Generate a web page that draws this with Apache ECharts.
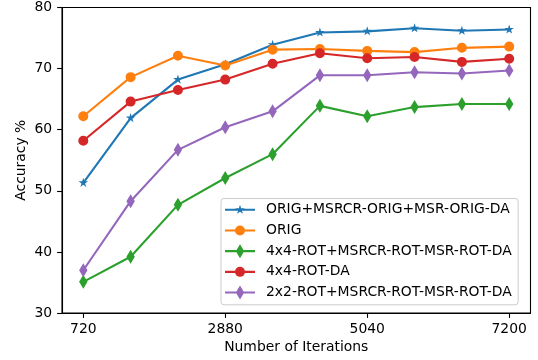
<!DOCTYPE html>
<html>
<head>
<meta charset="utf-8">
<script src="https://cdn.jsdelivr.net/npm/echarts@6/dist/echarts.min.js"></script>
<style>html,body{margin:0;padding:0;background:#fff}#c{width:538px;height:360px}</style>
</head>
<body>
<div id="c"></div>
<script>
const iterations = [720, 1440, 2160, 2880, 3600, 4320, 5040, 5760, 6480, 7200];
const xTickLabels = [720, 2880, 5040, 7200];
const seriesNames = [
  'ORIG+MSRCR-ORIG+MSR-ORIG-DA',
  'ORIG',
  '4x4-ROT+MSRCR-ROT-MSR-ROT-DA',
  '4x4-ROT-DA',
  '2x2-ROT+MSRCR-ROT-MSR-ROT-DA'
];
const origMsrcrMsrDA = [51.3, 61.9, 68.2, 70.7, 73.9, 75.9, 76.1, 76.6, 76.2, 76.4];
const orig = [62.2, 68.6, 72.1, 70.5, 73.1, 73.2, 72.9, 72.7, 73.4, 73.6];
const rot4MsrcrMsrDA = [35.1, 39.2, 47.7, 52.1, 56.0, 63.9, 62.2, 63.7, 64.2, 64.2];
const rot4DA = [58.2, 64.6, 66.5, 68.2, 70.8, 72.5, 71.7, 71.9, 71.1, 71.6];
const rot2MsrcrMsrDA = [37.0, 48.3, 56.7, 60.4, 63.0, 68.9, 68.9, 69.4, 69.2, 69.7];

const colors = ['#1f77b4', '#ff7f0e', '#2ca02c', '#d62728', '#9467bd'];

// marker shapes (clockwise), centred at 0,0
const starD = 'M0,-5 L1.123,-1.545 L4.755,-1.545 L1.816,0.59 L2.939,4.045 L0,1.91 L-2.939,4.045 L-1.816,0.59 L-4.755,-1.545 L-1.123,-1.545 Z';
const circleD = 'M-5,0 A5,5 0 1,1 5,0 A5,5 0 1,1 -5,0 Z';
const diamondD = 'M0,-7 L4.2,0 L0,7 L-4.2,0 Z';
const shapes = [starD, circleD, diamondD, circleD, diamondD];

function shift(d, dx, dy) {
  return d.replace(/(-?\d*\.?\d+),(-?\d*\.?\d+)/g, (m, a, b) => {
    return (parseFloat(a) + dx).toFixed(3) + ',' + (parseFloat(b) + dy).toFixed(3);
  });
}
function fixArc(d, dx, dy) {
  return d.replace(/([ML])(-?\d*\.?\d+),(-?\d*\.?\d+)/g, (m, c, a, b) => c + (parseFloat(a) + dx).toFixed(3) + ',' + (parseFloat(b) + dy).toFixed(3))
          .replace(/A5,5 0 1,1 (-?\d*\.?\d+),(-?\d*\.?\d+)/g, (m, a, b) => 'A5,5 0 1,1 ' + (parseFloat(a) + dx).toFixed(3) + ',' + (parseFloat(b) + dy).toFixed(3));
}
const pad = ' M-7,-7 L-6.99,-7 M7,7 L6.99,7';
const symbols = shapes.map(d => 'path://' + d + pad);

// legend icons: 36 x 17.5 box, line 0..30, marker centred at 15
const LW = 36, LH = 17.5;
const lineRect = 'M0,7.7 L30,7.7 L30,9.8 L0,9.8 Z';
const legendIcons = shapes.map(d => {
  const m = (d === circleD) ? fixArc(d, 15, 8.75) : shift(d, 15, 8.75);
  return 'path://' + lineRect + ' ' + m + ' M0,0 L0.01,0 M36,17.5 L35.99,17.5';
});
const allValues = [origMsrcrMsrDA, orig, rot4MsrcrMsrDA, rot4DA, rot2MsrcrMsrDA];

const font = 'DejaVu Sans';
const fs = 13.9;

const chart = echarts.init(document.getElementById('c'), null, {renderer: 'canvas'});
chart.setOption({
  animation: false,
  backgroundColor: '#fff',
  grid: {left: 62, right: 7.5, top: 7.5, bottom: 47, show: true, borderColor: '#000', borderWidth: 1.1, backgroundColor: 'transparent'},
  xAxis: {
    type: 'value', min: 396, max: 7524,
    name: 'Number of Iterations', nameLocation: 'middle', nameGap: 27, nameMoveOverlap: false,
    nameTextStyle: {fontFamily: font, fontSize: fs, color: '#000'},
    axisLine: {show: true, lineStyle: {color: '#000', width: 1.1}},
    axisTick: {show: true, length: 4.9, lineStyle: {color: '#000', width: 1.1}, customValues: xTickLabels},
    axisLabel: {show: true, margin: 9.8, fontFamily: font, fontSize: fs, color: '#000', customValues: xTickLabels, formatter: v => String(v)},
    splitLine: {show: false}
  },
  yAxis: {
    type: 'value', min: 30, max: 80, interval: 10,
    name: 'Accuracy %', nameLocation: 'middle', nameGap: 34, nameMoveOverlap: false,
    nameTextStyle: {fontFamily: font, fontSize: fs, color: '#000'},
    axisLine: {show: true, lineStyle: {color: '#000', width: 1.1}},
    axisTick: {show: true, length: 4.9, lineStyle: {color: '#000', width: 1.1}},
    axisLabel: {margin: 9.8, fontFamily: font, fontSize: fs, color: '#000'},
    splitLine: {show: false}
  },
  legend: {
    orient: 'vertical', left: 221, top: 198.5,
    data: seriesNames.map((n, i) => ({name: n, icon: legendIcons[i]})),
    itemWidth: LW, itemHeight: LH, itemGap: 3.2,
    padding: [2.5, 6.5, 3.5, 4],
    itemStyle: {borderWidth: 0},
    backgroundColor: 'rgba(255,255,255,0.8)', borderColor: '#cccccc', borderWidth: 1, borderRadius: 3,
    textStyle: {fontFamily: font, fontSize: fs, color: '#000'}
  },
  series: seriesNames.map((name, i) => ({
    name: name,
    type: 'line',
    data: iterations.map((x, j) => [x, allValues[i][j]]),
    symbol: symbols[i],
    symbolSize: 14,
    showAllSymbol: true,
    color: colors[i],
    itemStyle: {color: colors[i]},
    lineStyle: {color: colors[i], width: 2.1},
    emphasis: {disabled: true},
    z: 2 + i
  }))
});
</script>
</body>
</html>
